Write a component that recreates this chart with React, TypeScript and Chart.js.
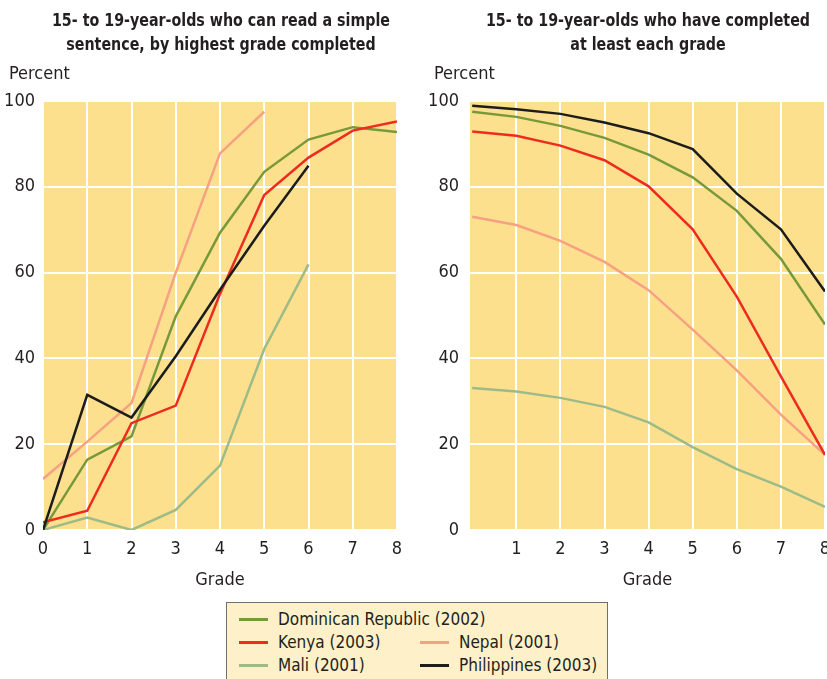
import React, { useEffect, useRef } from "react";
import { Chart, registerables } from "chart.js";

Chart.register(...registerables);

// ---------- data ----------
const grades = [0, 1, 2, 3, 4, 5, 6, 7, 8];
const xTickLabelsLeft = [0, 1, 2, 3, 4, 5, 6, 7, 8];
const xTickLabelsRight = [1, 2, 3, 4, 5, 6, 7, 8];
const yTickValues = [0, 20, 40, 60, 80, 100];

// Left: can read a simple sentence, by highest grade completed
const readDominican = [0, 16.4, 21.8, 49.8, 69.3, 83.5, 91.0, 93.9, 92.8];
const readKenya = [1.8, 4.5, 24.9, 29.0, 55.0, 78.1, 86.8, 93.1, 95.2];
const readNepal = [11.9, 20.6, 29.6, 60.0, 87.8, 97.5];
const readMali = [0, 2.9, 0, 4.7, 15.0, 42.2, 61.9];
const readPhilippines = [0, 31.5, 26.2, 40.5, 56.0, 70.9, 84.9];

// Right: have completed at least each grade
const compDominican = [97.5, 96.3, 94.2, 91.4, 87.5, 82.2, 74.4, 63.2, 47.9];
const compKenya = [92.9, 91.9, 89.6, 86.2, 80.1, 70.1, 54.4, 35.8, 17.5];
const compNepal = [73.0, 71.1, 67.4, 62.5, 55.9, 46.7, 37.2, 26.9, 17.5];
const compMali = [33.1, 32.3, 30.8, 28.7, 25.1, 19.3, 14.2, 10.1, 5.4];
const compPhilippines = [98.9, 98.1, 97.0, 95.0, 92.5, 88.8, 78.4, 70.1, 55.6];

const seriesNames = [
  "Dominican Republic (2002)",
  "Kenya (2003)",
  "Nepal (2001)",
  "Mali (2001)",
  "Philippines (2003)",
];

// ---------- styles ----------
const FONT = '"Liberation Sans Narrow", "DejaVu Sans Condensed", "Roboto Condensed", Arial, sans-serif';
const TEXT = "#231f20";
const PLOT_BG = "#fde08e";
const C_DOM = "#77993a";
const C_KEN = "#ee2b1f";
const C_NEP = "#f5a182";
const C_MALI = "#9dbb87";
const C_PHI = "#1c1c1c";

const bgPlugin = {
  id: "plotBg",
  beforeDraw(chart: any) {
    const { ctx, chartArea } = chart;
    if (!chartArea) return;
    ctx.save();
    ctx.fillStyle = PLOT_BG;
    ctx.fillRect(chartArea.left, chartArea.top, chartArea.right - chartArea.left, chartArea.bottom - chartArea.top);
    ctx.restore();
  },
};

function pts(values: number[]) {
  return values.map((v, i) => ({ x: grades[i], y: v }));
}

function buildDatasets(dom: number[], ken: number[], nep: number[], mali: number[], phi: number[]) {
  // first dataset is drawn on top
  return [
    { label: seriesNames[4], data: pts(phi), borderColor: C_PHI },
    { label: seriesNames[1], data: pts(ken), borderColor: C_KEN },
    { label: seriesNames[0], data: pts(dom), borderColor: C_DOM },
    { label: seriesNames[2], data: pts(nep), borderColor: C_NEP },
    { label: seriesNames[3], data: pts(mali), borderColor: C_MALI },
  ].map((d) => ({ ...d, fill: false, borderWidth: 2.5, pointRadius: 0, tension: 0 }));
}

type PanelProps = {
  left: number;
  width: number;
  height: number;
  datasets: any[];
  xMin: number;
  xMax: number;
  xTicks: number[];
  yAxisWidth: number;
  yTickPadding: number;
  padRight: number;
};

function Panel(p: PanelProps) {
  const ref = useRef<HTMLCanvasElement | null>(null);
  useEffect(() => {
    if (!ref.current) return;
    const chart = new Chart(ref.current, {
      type: "line",
      data: { datasets: p.datasets },
      plugins: [bgPlugin],
      options: {
        animation: false,
        responsive: false,
        maintainAspectRatio: false,
        devicePixelRatio: 1,
        layout: { padding: { top: 101, right: p.padRight, left: 0, bottom: 0 } },
        plugins: {
          legend: { display: false },
          tooltip: { enabled: false },
          title: { display: false },
        },
        scales: {
          x: {
            type: "linear",
            min: p.xMin,
            max: p.xMax,
            afterFit(s: any) {
              s.height = 70;
            },
            afterBuildTicks(s: any) {
              s.ticks = p.xTicks.map((v) => ({ value: v }));
            },
            grid: { color: "#ffffff", lineWidth: 2, drawTicks: false },
            border: { display: false },
            ticks: {
              padding: 9,
              color: TEXT,
              font: { family: FONT, size: 18 },
              maxRotation: 0,
              autoSkip: false,
            },
            title: {
              display: true,
              text: "Grade",
              color: TEXT,
              font: { family: FONT, size: 18 },
              padding: { top: 0, bottom: 9 },
            },
          },
          y: {
            type: "linear",
            min: 0,
            max: 100,
            afterFit(s: any) {
              s.width = p.yAxisWidth;
            },
            afterBuildTicks(s: any) {
              s.ticks = yTickValues.map((v) => ({ value: v }));
            },
            grid: { color: "#ffffff", lineWidth: 2, drawTicks: false },
            border: { display: false },
            ticks: {
              padding: p.yTickPadding,
              color: TEXT,
              font: { family: FONT, size: 18 },
            },
          },
        },
      } as any,
    });
    return () => chart.destroy();
  }, []);
  return (
    <canvas
      ref={ref}
      width={p.width}
      height={p.height}
      style={{ position: "absolute", left: p.left, top: 0, width: p.width, height: p.height }}
    />
  );
}

const textStyle: React.CSSProperties = {
  position: "absolute",
  fontFamily: FONT,
  color: TEXT,
  fontSize: 18,
  lineHeight: "24px",
  whiteSpace: "nowrap",
};

const titleStyle: React.CSSProperties = {
  ...textStyle,
  width: 420,
  top: 8,
  textAlign: "center",
  fontWeight: "bold",
  transform: "scaleX(0.88)",
  transformOrigin: "50% 50%",
};

function LegendItem({ x, textX, cy, color, label }: { x: number; textX: number; cy: number; color: string; label: string }) {
  return (
    <>
      <div style={{ position: "absolute", left: x, top: cy - 1.5, width: 29, height: 3, background: color }} />
      <div style={{ ...textStyle, fontSize: 17, left: textX, top: cy - 12 }}>{label}</div>
    </>
  );
}

export default function App() {
  const leftSets = buildDatasets(readDominican, readKenya, readNepal, readMali, readPhilippines);
  const rightSets = buildDatasets(compDominican, compKenya, compNepal, compMali, compPhilippines);
  return (
    <div
      style={{
        position: "absolute",
        left: 0,
        top: 0,
        width: 827,
        height: 679,
        overflow: "hidden",
        background: "#ffffff",
      }}
    >
      <Panel
        left={0}
        width={420}
        height={600}
        datasets={leftSets}
        xMin={0}
        xMax={8}
        xTicks={xTickLabelsLeft}
        yAxisWidth={43}
        yTickPadding={8}
        padRight={23}
      />
      <Panel
        left={420}
        width={440}
        height={600}
        datasets={rightSets}
        xMin={-0.05}
        xMax={8}
        xTicks={xTickLabelsRight}
        yAxisWidth={50}
        yTickPadding={11}
        padRight={35}
      />

      <div style={{ ...titleStyle, left: 221 - 210 }}>
        15- to 19-year-olds who can read a simple
        <br />
        sentence, by highest grade completed
      </div>
      <div style={{ ...titleStyle, left: 648 - 210 }}>
        15- to 19-year-olds who have completed
        <br />
        at least each grade
      </div>
      <div style={{ ...textStyle, left: 9, top: 61 }}>Percent</div>
      <div style={{ ...textStyle, left: 434, top: 61 }}>Percent</div>

      <div
        style={{
          position: "absolute",
          left: 226,
          top: 602,
          width: 382,
          height: 100,
          background: "#fef1c9",
          border: "1px solid #6f6f6f",
          boxSizing: "border-box",
        }}
      />
      <LegendItem x={239} textX={278} cy={619} color={C_DOM} label={seriesNames[0]} />
      <LegendItem x={239} textX={278} cy={642} color={C_KEN} label={seriesNames[1]} />
      <LegendItem x={420} textX={459} cy={642} color={C_NEP} label={seriesNames[2]} />
      <LegendItem x={239} textX={278} cy={665} color={C_MALI} label={seriesNames[3]} />
      <LegendItem x={420} textX={459} cy={665} color={C_PHI} label={seriesNames[4]} />
    </div>
  );
}
